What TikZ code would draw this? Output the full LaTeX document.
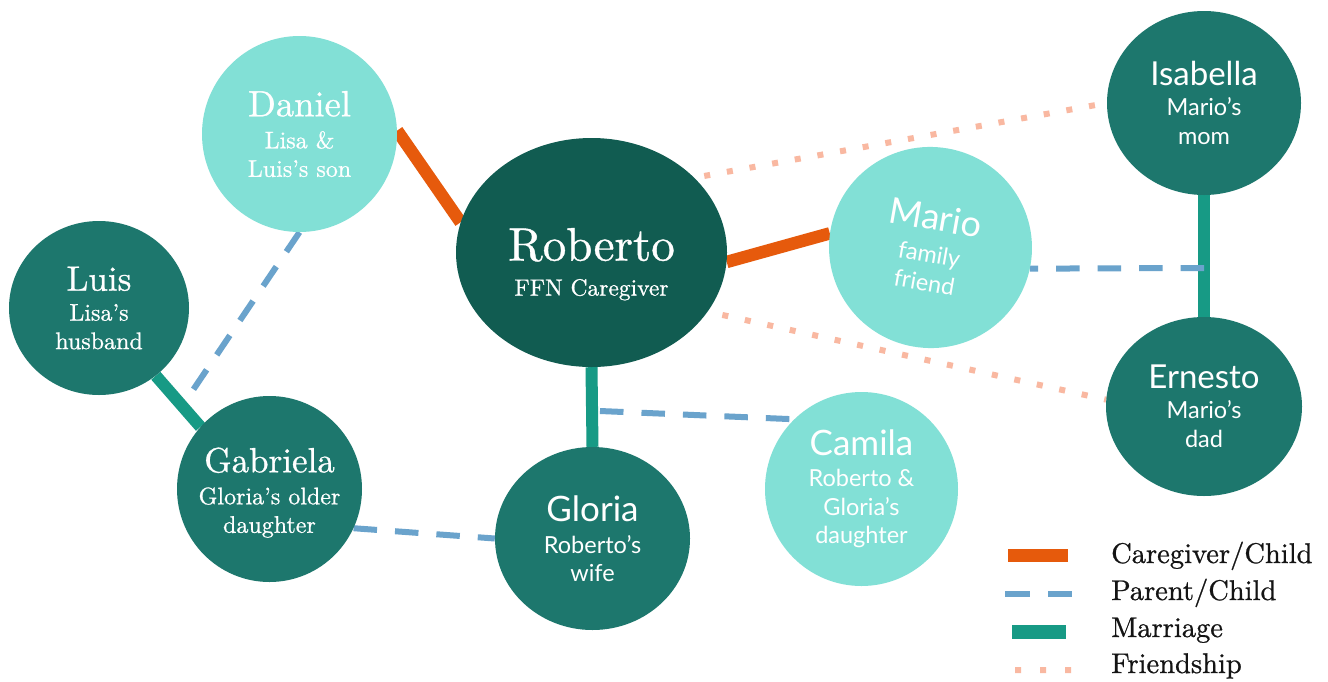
\documentclass[tikz,border=0pt]{standalone}
\usepackage{fontspec}
\setmainfont{lmroman10-regular.otf}[FakeBold=0.8]
\newfontfamily\lato{Lato}
\usetikzlibrary{shapes.geometric}
\pgfdeclarelayer{background}
\pgfsetlayers{background,main}
\definecolor{lightteal}{HTML}{82E0D6}
\definecolor{darkteal}{HTML}{1D776D}
\definecolor{centerteal}{HTML}{115C51}
\definecolor{cgorange}{HTML}{E65A0C}
\definecolor{marteal}{HTML}{179A85}
\definecolor{pcblue}{HTML}{6AA3CC}
\definecolor{frsalmon}{HTML}{F9B8A1}
\tikzset{
  person/.style={ellipse, inner sep=-20pt, text=white, align=center},
  lightperson/.style={person, fill=lightteal},
  darkperson/.style={person, fill=darkteal},
  centerperson/.style={person, fill=centerteal},
  serifsub/.style={font=\fontsize{24}{28.5}\selectfont},
  sanssub/.style={font=\lato\fontsize{23.5}{28.5}\selectfont},
  caregiver/.style={draw=cgorange, line width=12.5pt},
  parentchild/.style={draw=pcblue, line width=6pt, dash pattern=on 23.5pt off 18pt},
  marriage/.style={draw=marteal, line width=12pt},
  friendship/.style={draw=frsalmon, line width=6pt, dash pattern=on 6pt off 17pt},
  legendtext/.style={anchor=base west, inner sep=0pt, font=\fontsize{28.5}{30}\selectfont, text=black!92}
}
\begin{document}
\begin{tikzpicture}[x=1pt, y=-1pt]
\useasboundingbox (0,0) rectangle (1328,681);

% people
\node[lightperson, serifsub, minimum width=195pt, minimum height=196pt] (daniel) at (299.5,134)
  {{\fontsize{36.5}{40}\selectfont Daniel}\\[3.5pt]Lisa \&\\Luis’s son};
\node[darkperson, serifsub, minimum width=180pt, minimum height=174pt] (luis) at (99,308)
  {{\fontsize{35}{40}\selectfont Luis}\\[1.5pt]Lisa’s\\husband};
\node[darkperson, serifsub, minimum width=185pt, minimum height=186pt] (gabriela) at (269.5,489)
  {{\fontsize{35}{40}\selectfont\rule{0pt}{32pt}Gabriela}\\[3.5pt]Gloria’s older\\daughter};
\node[centerperson, font=\fontsize{23.5}{28.5}\selectfont, minimum width=271pt, minimum height=229pt] (roberto) at (591.5,252.5)
  {{\fontsize{47}{50}\selectfont\rule{0pt}{56pt}Roberto}\\[6.5pt]FFN Caregiver};
\node[darkperson, sanssub, minimum width=195pt, minimum height=183pt] (gloria) at (592.5,538.5)
  {{\fontsize{35}{40}\selectfont Gloria}\\[3.5pt]Roberto’s\\wife};
\node[lightperson, sanssub, minimum width=193pt, minimum height=194pt] (camila) at (861.5,489)
  {{\fontsize{35}{40}\selectfont Camila}\\[2.5pt]Roberto \&\\Gloria’s\\daughter};
\node[lightperson, sanssub, rotate=-10, minimum width=203pt, minimum height=201pt] (mario) at (930.5,247.5)
  {{\fontsize{36}{40}\selectfont Mario}\\[4.5pt]family\\friend};
\node[darkperson, sanssub, minimum width=194pt, minimum height=184pt] (isabella) at (1204,103)
  {{\fontsize{33}{40}\selectfont Isabella}\\[1.5pt]Mario’s\\mom};
\node[darkperson, sanssub, minimum width=196pt, minimum height=179pt] (ernesto) at (1204,406.5)
  {{\fontsize{33}{40}\selectfont Ernesto}\\[1.5pt]Mario’s\\dad};

\coordinate (rgmid) at (600,411);
\coordinate (lgmid) at (191,393);
\coordinate (iemid) at (1204,268);

\begin{pgfonlayer}{background}
  \fill[white] (0,0) rectangle (1328,681);
  \draw[friendship, shorten <=10pt] (roberto.36) -- (isabella.west);
  \draw[friendship, shorten <=15pt] (roberto.-27) -- (ernesto.176);
  \draw[parentchild] (daniel.south) -- (lgmid);
  \draw[parentchild] (gabriela.-25) -- (gloria.west);
  \draw[parentchild] (rgmid) -- (camila.134);
  \draw[caregiver] (daniel.2) -- (roberto.167);
  \draw[caregiver] (roberto.-4) -- (mario.182);
  \draw[marriage] (roberto.south) -- (gloria.north);
  \draw[marriage] (luis.-50) -- (gabriela.138);
  \draw[marriage] (isabella.south) -- (ernesto.north);
  \draw[parentchild] (iemid) -- (mario.-2);
\end{pgfonlayer}

% legend
\fill[cgorange] (1008,549) rectangle (1068,562);
\draw[pcblue, line width=6pt] (1005,594) -- (1030,594) (1048,594) -- (1072,594);
\fill[marteal] (1012,625) rectangle (1066,639);
\fill[frsalmon] (1015,667) rectangle (1021,673) (1040,667) rectangle (1046,673) (1065,667) rectangle (1071,673);
\node[legendtext] (lgcg) at (1111,563) {Caregiver/Child};
\node[legendtext] (lgpc) at (1111,600) {Parent/Child};
\node[legendtext] (lgm) at (1111,637) {Marriage};
\node[legendtext] (lgf) at (1111,673) {Friendship};
\end{tikzpicture}
\end{document}
